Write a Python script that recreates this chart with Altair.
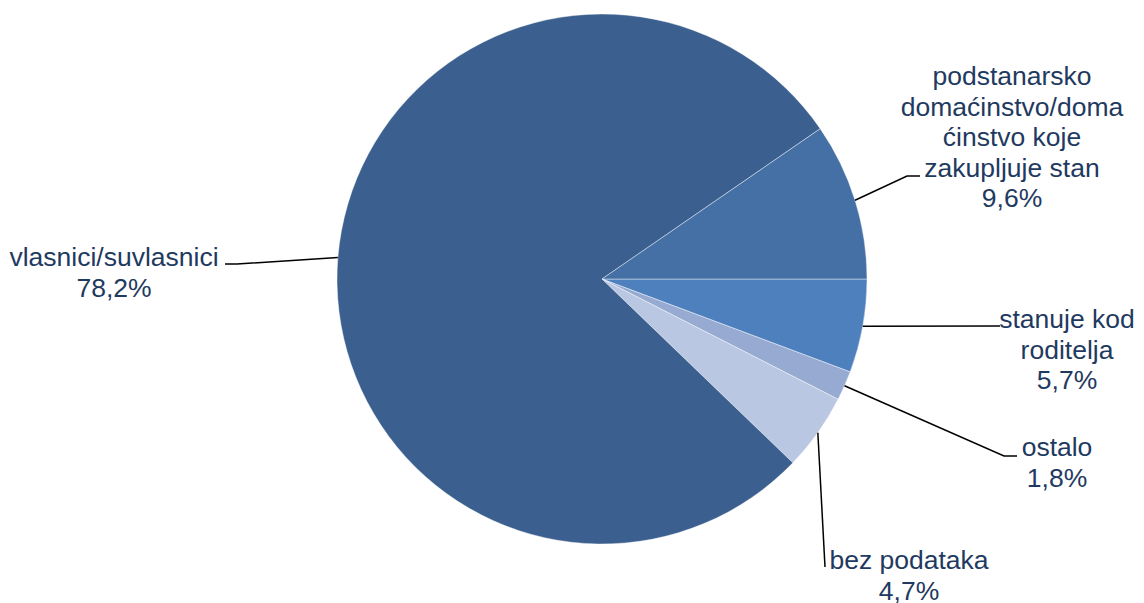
import altair as alt
import pandas as pd
import numpy as np

# Data (ordered clockwise starting at 3 o'clock)
categories = ["stanuje kod roditelja", "ostalo", "bez podataka",
              "vlasnici/suvlasnici",
              "podstanarsko domaćinstvo/domaćinstvo koje zakupljuje stan"]
values = [5.7, 1.8, 4.7, 78.2, 9.6]
label_texts = ["stanuje kod\nroditelja\n5,7%",
               "ostalo\n1,8%",
               "bez podataka\n4,7%",
               "vlasnici/suvlasnici\n78,2%",
               "podstanarsko\ndomaćinstvo/doma\nćinstvo koje\nzakupljuje stan\n9,6%"]
colors = ["#4E80BD", "#97ABD2", "#B9C7E2", "#3B5F8E", "#4470A5"]

# Layout (chart pixel coordinates)
W, H = 1128, 595
CX, CY, R = 594, 271, 265
label_x = [1059, 1049, 901, 106, 1004]
label_y = [312, 440, 553, 250, 69]
elbow_x = [992, 996, 817, 229, 899]
elbow_y = [318, 448, 559, 256, 168]
end_x = [992, 1009, 817, 217, 912]
end_y = [318, 448, 559, 256, 168]

df = pd.DataFrame({"cat": categories, "val": values, "ord": list(range(len(values)))})

# Leader line start: arc mid-point of each slice (derived from values)
total = sum(values)
cum = np.cumsum([0] + values)
start_ang = np.pi / 2
rows = []
for i, c in enumerate(categories):
    mid = start_ang + 2 * np.pi * (cum[i] + values[i] / 2) / total  # vega theta: 0 at top, clockwise
    sx = CX + R * np.sin(mid)
    sy = CY - R * np.cos(mid)
    rows.append({"cat": c, "seq": 0, "px": sx, "py": sy})
    rows.append({"cat": c, "seq": 1, "px": elbow_x[i], "py": elbow_y[i]})
    rows.append({"cat": c, "seq": 2, "px": end_x[i], "py": end_y[i]})
lines_df = pd.DataFrame(rows)

labels_df = pd.DataFrame({"cat": categories, "txt": label_texts, "lx": label_x, "ly": label_y})

xs = alt.Scale(domain=[0, W], nice=False, zero=False)
ys = alt.Scale(domain=[0, H], nice=False, zero=False, reverse=True)

pie = alt.Chart(df).mark_arc(outerRadius=R, stroke="white", strokeWidth=0.6, strokeOpacity=0.7).encode(
    theta=alt.Theta("val:Q", stack=True, scale=alt.Scale(range=[np.pi / 2, np.pi / 2 + 2 * np.pi])),
    color=alt.Color("cat:N", scale=alt.Scale(domain=categories, range=colors), legend=None),
    order=alt.Order("ord:Q"),
    x=alt.value(CX),
    y=alt.value(CY),
)

leaders = alt.Chart(lines_df).mark_line(color="black", strokeWidth=1.5).encode(
    x=alt.X("px:Q", scale=xs, axis=None),
    y=alt.Y("py:Q", scale=ys, axis=None),
    detail="cat:N",
    order="seq:Q",
)

texts = alt.Chart(labels_df).mark_text(
    font="Liberation Sans", fontSize=26.5, color="#1F3A60", lineBreak="\n",
    lineHeight=30.5, align="center", baseline="middle"
).encode(
    x=alt.X("lx:Q", scale=xs, axis=None),
    y=alt.Y("ly:Q", scale=ys, axis=None),
    text="txt:N",
)

chart = alt.layer(pie, leaders, texts).properties(
    width=W, height=H, padding=0, autosize="none", background="white"
).configure_view(stroke=None)

chart.save("out.html", embed_options={"renderer": "svg", "actions": False})
